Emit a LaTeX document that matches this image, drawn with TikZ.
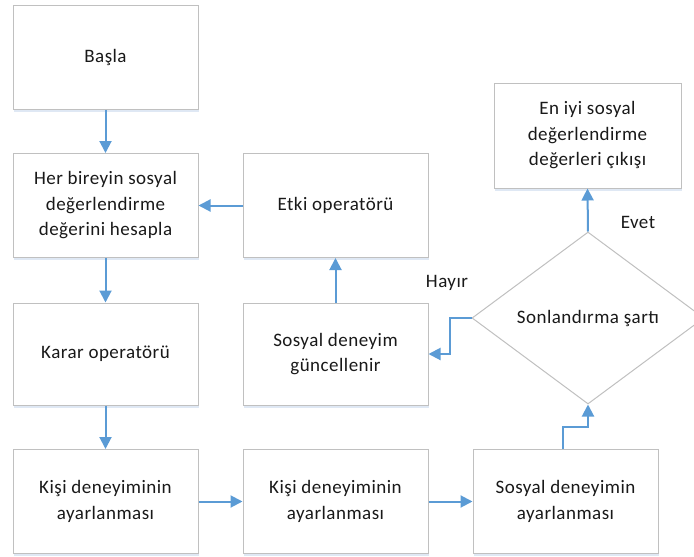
\documentclass[tikz,border=0pt]{standalone}
\usepackage{fontspec}
\setmainfont[LetterSpace=2.5]{Carlito}
\usetikzlibrary{shapes.geometric,arrows.meta,shadows}
\definecolor{flowblue}{HTML}{5B9BD5}
\definecolor{boxline}{HTML}{C0C0C0}
\definecolor{shade}{HTML}{C9D9EC}
\begin{document}
\begin{tikzpicture}[x=1pt,y=-1pt,
  every node/.style={font=\fontsize{19}{25.5}\selectfont, text=black!90},
  stepbox/.style={draw=boxline, line width=1pt, fill=white, align=center,
    minimum width=185pt, minimum height=104pt, inner sep=0pt,
    drop shadow={shadow xshift=1pt, shadow yshift=-2.5pt, fill=shade, opacity=0.6}},
  decision/.style={diamond, draw=boxline, line width=1pt, fill=white, align=center,
    minimum width=232pt, minimum height=172pt, inner sep=0pt},
  arr/.style={draw=flowblue, line width=2pt, -{Triangle[length=12pt,width=12pt]}}
]
\useasboundingbox (0,0) rectangle (694,557);

% left column
\node[stepbox] (basla) at (105.5,57.5) {Başla};
\node[stepbox] (her)   at (105.5,205.5) {Her bireyin sosyal\\değerlendirme\\değerini hesapla};
\node[stepbox, minimum height=102pt] (karar) at (105.5,354) {Karar operatörü};
\node[stepbox] (kisia) at (105.5,501.5) {Kişi deneyiminin\\ayarlanması};

% middle column
\node[stepbox] (etki)  at (335.5,205.5) {Etki operatörü};
\node[stepbox, minimum height=102pt] (gunc) at (335.5,354) {Sosyal deneyim\\güncellenir};
\node[stepbox] (kisib) at (335.5,501.5) {Kişi deneyiminin\\ayarlanması};

% right column
\node[stepbox] (sosyal) at (565.5,501.5) {Sosyal deneyimin\\ayarlanması};
\node[decision] (cond) at (588,318) {Sonlandırma şartı};
\node[stepbox, minimum width=187pt, minimum height=105pt] (cikis) at (587.5,135.5)
  {En iyi sosyal\\değerlendirme\\değerleri çıkışı};

% branch labels
\node (evet)  at (638,222) {Evet};
\node (hayir) at (447,283) {Hayır};

% connectors
\draw[arr] (basla) -- (her);
\draw[arr] (her) -- (karar);
\draw[arr] (karar) -- (kisia);
\draw[arr] (kisia) -- (kisib);
\draw[arr] (kisib) -- (sosyal);
\draw[arr] (sosyal.north) ++(-2.5,0) -- ++(0,-22) -| (cond.south);
\draw[arr] (cond.west) -- ++(-22,0) |- (gunc.east);
\draw[arr] (gunc) -- (etki);
\draw[arr] (etki) -- (her);
\draw[arr] (cond.north) -- (cikis.south);
\end{tikzpicture}
\end{document}
